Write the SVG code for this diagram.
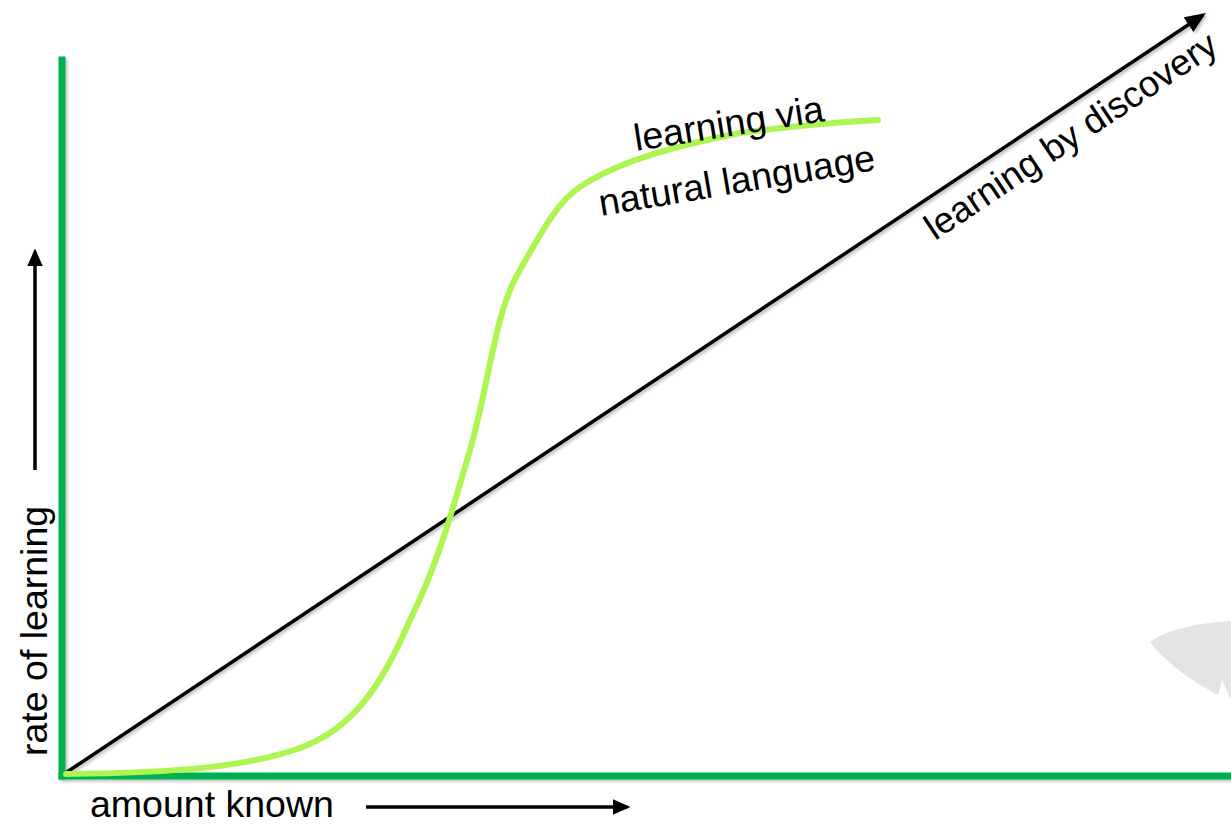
<svg xmlns="http://www.w3.org/2000/svg" width="1231" height="825" viewBox="0 0 1231 825">
<style>
.lbl{font-family:"Liberation Sans",Arial,sans-serif;font-size:37.5px;fill:#000}
.axis{stroke:#00B050;stroke-width:7;fill:none;stroke-linecap:square}
.arr{stroke:#000;stroke-width:3.5;fill:none}
</style>
<defs>
<filter id="sh" x="-5%" y="-5%" width="110%" height="110%">
<feDropShadow dx="2" dy="2" stdDeviation="1.5" flood-color="#000" flood-opacity="0.25"/>
</filter>
<marker id="ah" markerWidth="6" markerHeight="5" refX="5" refY="2.5" orient="auto" markerUnits="strokeWidth">
<path d="M0,0 L6,2.5 L0,5 Z" fill="#000"/>
</marker>
<marker id="ah2" markerWidth="5" markerHeight="4.4" refX="4" refY="2.2" orient="auto" markerUnits="strokeWidth">
<path d="M0,0 L5,2.2 L0,4.4 Z" fill="#000"/>
</marker>
</defs>
<rect width="1231" height="825" fill="#fff"/>
<path id="blob" d="M1150,642 C1170,628 1200,623 1231,621 L1231,700 L1222,680 L1218,695 C1190,680 1165,662 1150,642 Z" fill="#E4E4E4"/>
<g id="axes" filter="url(#sh)">
<line class="axis" x1="62" y1="60" x2="62" y2="776"/>
<line class="axis" x1="62" y1="776" x2="1231" y2="776"/>
</g>
<g id="connectors">
<line id="discovery" x1="64" y1="774" x2="1203" y2="15" class="arr" marker-end="url(#ah)" filter="url(#sh)"/>
<path id="nl-curve" d="M66,774 C180,773 250,766 300,748 C350,730 380,690 410,620 C440,560 455,500 470,450 C490,380 495,310 520,270 C545,225 560,200 580,187 C620,160 680,145 740,133 C800,125 840,122 878,120" fill="none" stroke="#ADF550" stroke-width="6" stroke-linecap="round"/>
<line id="y-arrow" x1="35" y1="470" x2="35" y2="252" class="arr" marker-end="url(#ah2)"/>
<line id="x-arrow" x1="366" y1="807" x2="627" y2="807" class="arr" marker-end="url(#ah2)"/>
</g>
<g id="labels">
<text class="lbl" x="90" y="817">amount known</text>
<text class="lbl" transform="translate(47,756) rotate(-90)">rate of learning</text>
<text class="lbl" transform="translate(636,151) rotate(-9)">learning via</text>
<text class="lbl" transform="translate(601,216) rotate(-9.5)">natural language</text>
<text class="lbl" style="font-size:36.5px" transform="translate(935,241) rotate(-33.7)">learning by discovery</text>
</g>
</svg>
